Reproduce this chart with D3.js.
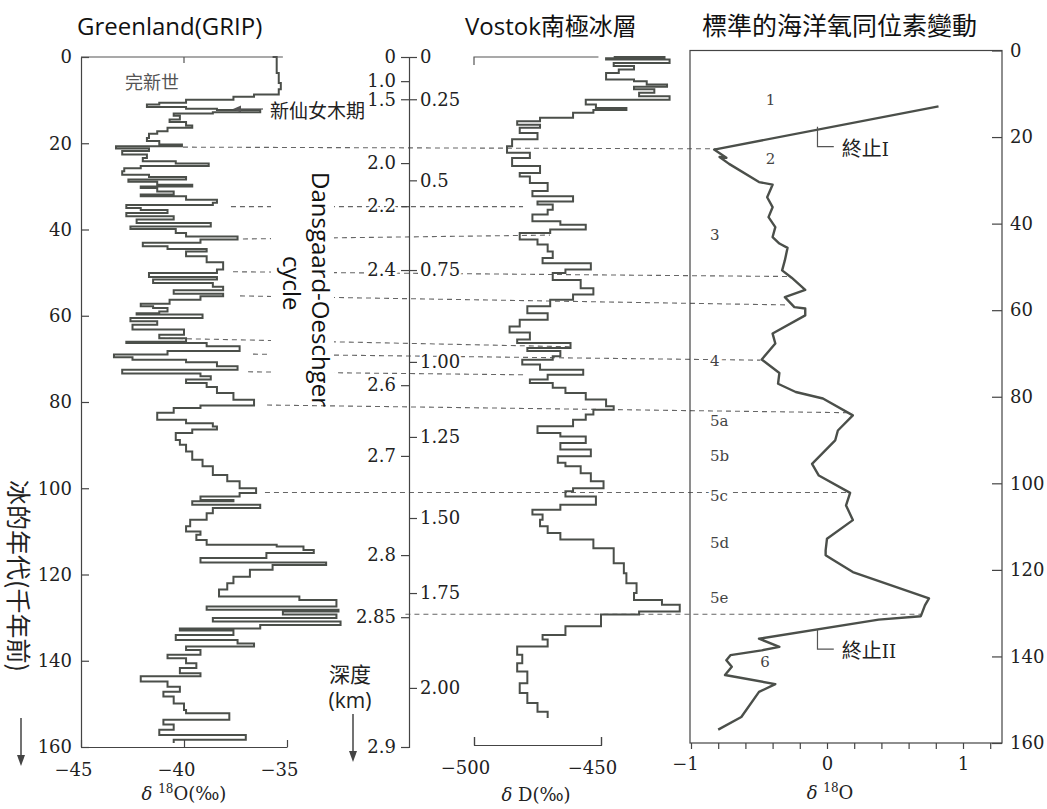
<!DOCTYPE html>
<meta charset="utf-8">
<script src="https://d3js.org/d3.v7.min.js"></script>
<style>
  body { margin: 0; background: #fff; }
  svg .serif, svg .tick text { font-family: "DejaVu Serif", serif !important; }
</style>
<div id="my_dataviz"></div>
<script>

// ---- data (ages in kyr before present) ----

// GRIP ice core, d18O (permil)
var gripAge = [0,3.7,6.0,7.5,8.7,9.2,9.9,10.6,11.0,11.6,12.0,12.3,12.8,13.1,13.6,14.5,15.1,15.9,16.4,17.2,17.8,18.8,19.5,20.3,20.7,21.2,21.8,22.6,23.4,24.2,24.7,25.3,25.8,26.5,27.3,27.8,28.4,28.9,29.6,30.0,30.4,31.2,31.9,32.3,33.1,33.8,34.3,35.0,35.5,36.2,36.9,37.7,38.5,39.3,39.9,40.8,41.6,42.3,43.1,43.9,44.5,45.1,46.2,47.6,49.3,50.1,51.0,51.6,52.4,53.3,54.1,54.9,55.5,56.3,57.2,57.8,58.2,59.0,59.4,59.7,60.5,61.3,62.1,63.2,64.4,65.2,66.0,66.3,67.1,68.2,69.0,69.6,70.2,70.8,71.7,72.5,73.4,74.0,74.8,75.6,76.5,77.9,79.5,80.8,81.4,82.5,84.1,84.9,85.7,86.4,87.2,88.8,89.9,91.5,93.4,94.9,96.9,98.4,100.0,101.1,101.9,102.7,103.0,103.8,104.6,105.8,107.3,108.8,110.0,110.8,112.0,113.1,113.5,114.3,115.0,116.2,117.2,117.8,118.9,120.5,122.0,123.5,125.1,125.9,126.7,127.4,128.2,128.6,129.3,130.1,130.9,131.7,132.5,133.0,134.0,135.2,136.0,136.7,137.5,138.6,139.4,140.6,141.7,142.9,143.6,144.8,146.0,147.2,148.3,149.9,151.4,152.2,153.7,154.8,156.0,157.2,158.3,159.1];
var gripD18O = [-35.7,-35.5,-35.4,-35.3,-35.4,-36.6,-37.6,-39.9,-41.2,-41.8,-39.9,-38.4,-36.3,-38.6,-40.5,-40.2,-40.7,-39.9,-39.6,-40.8,-41.3,-41.7,-41.8,-41.2,-40.1,-43.3,-41.7,-43.0,-41.8,-42.0,-40.4,-38.8,-42.1,-42.9,-43.0,-41.7,-39.9,-42.7,-41.3,-39.6,-42.1,-41.3,-40.5,-42.1,-39.9,-38.4,-38.6,-42.8,-42.1,-40.8,-42.8,-40.5,-42.3,-38.7,-42.6,-40.4,-39.9,-37.4,-39.2,-42.0,-40.8,-38.9,-39.9,-38.9,-38.1,-38.4,-41.7,-38.4,-41.5,-38.6,-38.1,-40.5,-38.1,-39.2,-40.7,-42.1,-41.5,-40.8,-41.2,-42.3,-39.1,-42.6,-41.3,-42.5,-40.0,-41.2,-39.9,-42.8,-38.9,-37.3,-40.8,-43.4,-42.5,-39.9,-38.4,-37.4,-43.0,-39.2,-38.7,-39.9,-38.9,-38.4,-37.6,-36.6,-39.2,-40.5,-41.3,-39.9,-38.6,-38.4,-39.6,-40.4,-40.2,-39.9,-39.6,-39.1,-38.6,-37.9,-37.3,-36.5,-37.3,-39.2,-37.6,-39.6,-36.3,-38.6,-38.9,-39.7,-39.9,-39.2,-39.4,-38.9,-35.5,-34.2,-33.7,-36.0,-39.2,-33.1,-35.7,-36.8,-37.6,-37.9,-38.3,-34.4,-32.6,-32.6,-38.9,-32.5,-35.2,-32.6,-38.6,-32.4,-36.3,-40.2,-37.6,-40.4,-37.4,-36.6,-39.9,-39.2,-40.8,-39.9,-39.4,-40.2,-39.2,-42.1,-40.8,-40.2,-41.0,-40.5,-40.0,-39.9,-37.8,-41.0,-40.5,-41.2,-37.0,-40.5];

// Vostok ice core, dD (permil)
var vostokAge = [0,0.3,0.6,1.4,2.1,2.9,3.7,5.2,5.6,6.4,6.9,7.5,8.3,9.1,9.9,11.0,11.8,12.3,12.9,14.1,14.9,15.7,16.4,17.6,19.1,20.7,22.2,23.4,25.3,26.9,27.7,29.2,31.1,32.3,33.5,34.2,35.4,36.5,38.1,38.9,40.0,40.8,42.3,43.5,45.1,46.6,47.8,49.3,50.1,51.7,53.6,55.1,56.3,57.8,59.4,60.9,62.5,63.9,65.5,66.3,67.5,68.2,69.4,70.2,71.3,72.5,73.7,74.8,75.6,76.7,77.9,79.4,81.0,81.8,82.9,84.1,85.6,87.2,88.0,89.5,91.0,92.6,94.1,94.9,96.5,98.4,100.0,100.7,101.9,103.8,105.0,106.1,107.3,108.8,110.4,111.9,113.9,115.8,117.4,119.7,122.0,124.3,125.9,127.0,128.6,129.3,132.0,134.0,135.1,136.7,138.6,140.6,142.5,145.2,147.5,149.8,151.8,153.3];
var vostokDD = [-445,-425,-448,-423,-445,-437,-443,-448,-437,-432,-424,-437,-429,-435,-423,-456,-452,-440,-453,-461,-474,-483,-474,-482,-475,-485,-487,-478,-485,-474,-482,-478,-471,-477,-461,-475,-469,-471,-477,-466,-456,-470,-482,-475,-471,-469,-473,-454,-464,-469,-458,-453,-461,-470,-479,-471,-482,-486,-478,-483,-462,-479,-466,-469,-481,-474,-457,-471,-478,-469,-464,-456,-448,-445,-453,-456,-461,-475,-466,-456,-466,-454,-467,-464,-458,-454,-449,-461,-464,-452,-466,-477,-473,-474,-471,-466,-453,-445,-445,-441,-440,-436,-437,-426,-419,-435,-450,-464,-473,-471,-483,-481,-483,-479,-482,-479,-475,-471];

// standard marine oxygen isotope record, d18O
var marineAge = [12.9,22.9,24.8,24.6,26.2,30.4,31.0,33.9,36.2,38.5,40.8,43.1,44.6,45.6,48.5,50.8,52.5,55.3,57.0,59.3,59.6,61.2,65.4,67.7,71.4,74.5,77.0,78.9,80.4,84.3,87.8,90.1,95.5,98.2,102.2,105.1,108.5,112.8,115.5,116.6,117.6,120.5,126.6,128.2,130.7,131.5,135.9,137.8,138.6,139.7,140.9,142.4,144.3,146.4,148.2,154.0,156.9];
var marineD18O = [0.82,-0.83,-0.74,-0.79,-0.72,-0.50,-0.40,-0.44,-0.40,-0.43,-0.38,-0.40,-0.35,-0.29,-0.31,-0.33,-0.26,-0.16,-0.31,-0.24,-0.16,-0.16,-0.40,-0.38,-0.48,-0.35,-0.36,-0.23,-0.03,0.19,0.08,0.06,-0.11,-0.06,0.17,0.14,0.19,0.00,-0.01,-0.01,0.04,0.19,0.75,0.72,0.69,0.38,-0.50,-0.35,-0.48,-0.71,-0.74,-0.70,-0.75,-0.38,-0.50,-0.63,-0.80];

// axes
var ageTicks = [0,20,40,60,80,100,120,140,160];
var gripXTicks = [-45,-40,-35];
var vostokXTicks = [-500,-450];
var marineXTicks = [-1,-0.8,-0.6,-0.4,-0.2,0,0.2,0.4,0.6,0.8,1,1.2];
var marineXLabels = [-1,0,1];

// depth scales (km) tied to age
var gripDepths = [0,1.0,1.5,2.0,2.2,2.4,2.6,2.7,2.8,2.85,2.9];
var gripDepthLabels = ["0","1.0","1.5","2.0","2.2","2.4","2.6","2.7","2.8","2.85","2.9"];
var gripDepthAges = [0,5.6,9.8,24.6,34.6,49.4,76.1,92.5,115.5,129.9,160];
var vostokDepths = [0,0.25,0.5,0.75,1.0,1.25,1.5,1.75,2.0];
var vostokDepthLabels = ["0","0.25","0.5","0.75","1.00","1.25","1.50","1.75","2.00"];
var vostokDepthAges = [0,9.8,28.6,49.4,70.7,88.1,106.9,124.3,146.3];

// marine isotope stages
var stageNames = ["1","2","3","4","5a","5b","5c","5d","5e","6"];
var stageAges = [12.6,26.3,43.8,72.8,86.7,94.8,104.0,114.9,127.6,142.4];
var stageVals = [-0.45,-0.45,-0.86,-0.86,-0.86,-0.86,-0.86,-0.86,-0.86,-0.49];

// terminations
var termNames = ["I","II"];
var termAge0 = [17.6,133.8];
var termAge1 = [22.2,138.3];

// dashed correlation lines: start/end age, start/end panel + value
var connAge0 = [20.9,34.7,42.2,49.8,55.4,65.2,68.9,73.0,80.7,101.0,129.2];
var connAge1 = [21.3,34.7,41.3,50.9,57.5,67.2,70.3,73.7,82.5,101.0,129.2];
var connFromPanel = ["g","g","g","g","g","g","g","g","g","g","v"];
var connFromVal = [-40.05,-37.72,-37.14,-37.62,-37.28,-41.17,-36.65,-36.89,-35.97,-36.07,-527];
var connToPanel = ["m","v","v","m","m","v","m","v","m","m","m"];
var connToVal = [-0.78,-480.7,-470.1,-0.28,-0.28,-461.4,-0.49,-479.1,0.185,0.17,0.69];

// ---- layout ----
var width = 1047, height = 809;
var sans = "Open Sans, Noto Sans CJK TC, sans-serif";
var cjk = "Noto Sans CJK TC, sans-serif";

var svg = d3.select("#my_dataviz")
  .append("svg")
    .attr("width", width)
    .attr("height", height);

var yL = d3.scaleLinear().domain([0, 160]).range([57, 747]);
var yR = d3.scaleLinear().domain([0, 160]).range([50.5, 743]);
var xG = d3.scaleLinear().domain([-45, -35]).range([81, 287]);
var xV = d3.scaleLinear().domain([-500, -450]).range([474, 601]);
var xM = d3.scaleLinear().domain([-1, 1]).range([691, 963]);
var px = {g: xG, v: xV, m: xM};

var depthAxisX = 409;
var gripDepth = d3.scaleLinear().domain(gripDepths).range(gripDepthAges.map(yL));
var vostokDepth = d3.scaleLinear().domain(vostokDepths).range(vostokDepthAges.map(yL));

var lineColor = "#4b4f4a";

// style an axis group like the scanned figure
function numAxis(g) {
  g.attr("font-family", null).attr("font-size", 18);
  g.selectAll("text").attr("class", "serif").attr("fill", "#222");
  g.selectAll("path, line").attr("stroke", "#444").attr("stroke-width", 1.2);
  return g;
}

// dashed correlation lines
svg.append("g")
  .selectAll("line")
  .data(connAge0)
  .enter().append("line")
    .attr("x1", function(d, i) { return px[connFromPanel[i]](connFromVal[i]); })
    .attr("x2", function(d, i) { return px[connToPanel[i]](connToVal[i]); })
    .attr("y1", function(d) { return yL(d); })
    .attr("y2", function(d, i) { return yL(connAge1[i]); })
    .attr("stroke", "#666")
    .attr("stroke-width", 1.1)
    .attr("stroke-dasharray", "5,4");

// white patch under the Dansgaard-Oeschger label
svg.append("rect")
  .attr("x", 271).attr("y", 163).attr("width", 63).attr("height", 232)
  .attr("fill", "#fff");

// ---- GRIP panel ----
svg.append("path")
  .datum(gripAge)
  .attr("fill", "none")
  .attr("stroke", lineColor)
  .attr("stroke-width", 2)
  .attr("d", d3.line()
    .curve(d3.curveStepAfter)
    .x(function(d, i) { return xG(gripD18O[i]); })
    .y(function(d) { return yL(d); }));

numAxis(svg.append("g")
  .attr("transform", "translate(" + xG(-45) + ",0)")
  .call(d3.axisLeft(yL).tickValues(ageTicks).tickSizeInner(-8).tickSizeOuter(0).tickPadding(9)));

numAxis(svg.append("g")
  .attr("transform", "translate(0," + yL(160) + ")")
  .call(d3.axisBottom(xG).tickValues(gripXTicks).tickSizeInner(-7).tickSizeOuter(0).tickPadding(16)
    .tickFormat(function(d) { return "\u2212" + Math.abs(d); })))
  .selectAll("text").attr("dx", -8);

// top frame line of GRIP panel
svg.append("path")
  .attr("d", "M" + xG(-45) + "," + yL(0) + "H" + xG(-35.2) + "M" + xG(-40) + "," + yL(0) + "v6")
  .attr("fill", "none").attr("stroke", "#555").attr("stroke-width", 1.2);

svg.append("text")
  .attr("class", "serif")
  .attr("x", xG(-40)).attr("y", 800)
  .attr("text-anchor", "middle")
  .attr("font-size", 18).attr("fill", "#222")
  .html("<tspan font-style='italic'>δ</tspan> <tspan font-size='12px' dy='-7'>18</tspan><tspan dy='7'>O(‰)</tspan>");

// ---- depth axis ----
numAxis(svg.append("g")
  .attr("transform", "translate(" + depthAxisX + ",0)")
  .call(d3.axisLeft(gripDepth).tickValues(gripDepths).tickSize(8).tickPadding(5)
    .tickFormat(function(d, i) { return gripDepthLabels[i]; })));
var gDepR = numAxis(svg.append("g")
  .attr("transform", "translate(" + depthAxisX + ",0)")
  .call(d3.axisRight(vostokDepth).tickValues(vostokDepths).tickSize(8).tickPadding(3)
    .tickFormat(function(d, i) { return vostokDepthLabels[i]; })));
gDepR.select(".domain").remove();

// ---- Vostok panel ----
svg.append("path")
  .datum(vostokAge)
  .attr("fill", "none")
  .attr("stroke", lineColor)
  .attr("stroke-width", 2)
  .attr("d", d3.line()
    .curve(d3.curveStepAfter)
    .x(function(d, i) { return xV(vostokDD[i]); })
    .y(function(d) { return yL(d); }));

numAxis(svg.append("g")
  .attr("transform", "translate(0,745)")
  .call(d3.axisBottom(xV).tickValues(vostokXTicks).tickSizeInner(-8).tickSizeOuter(-8).tickPadding(16)
    .tickFormat(function(d) { return "\u2212" + Math.abs(d); })))
  .selectAll("text").attr("dx", -9);

svg.append("path")
  .attr("d", "M" + xV(-500) + "," + (yL(0) + 8) + "V" + yL(0) + "H" + xV(-451))
  .attr("fill", "none").attr("stroke", "#555").attr("stroke-width", 1.2);

svg.append("text")
  .attr("class", "serif")
  .attr("x", 536).attr("y", 801)
  .attr("text-anchor", "middle")
  .attr("font-size", 18).attr("fill", "#222")
  .html("<tspan font-style='italic'>δ</tspan> D(‰)");

// ---- marine panel ----
svg.append("rect")
  .attr("x", 690).attr("y", yR(0)).attr("width", 312).attr("height", yR(160) - yR(0))
  .attr("fill", "none").attr("stroke", "#444").attr("stroke-width", 1.2);

svg.append("path")
  .datum(marineAge)
  .attr("fill", "none")
  .attr("stroke", lineColor)
  .attr("stroke-width", 2.4)
  .attr("stroke-linejoin", "round")
  .attr("d", d3.line()
    .x(function(d, i) { return xM(marineD18O[i]); })
    .y(function(d) { return yR(d); }));

var gMx = numAxis(svg.append("g")
  .attr("transform", "translate(0," + yR(160) + ")")
  .call(d3.axisBottom(xM).tickValues(marineXTicks).tickSize(6).tickPadding(8)
    .tickFormat(function(d) {
      var r = Math.round(d * 10) / 10;
      return marineXLabels.indexOf(r) >= 0 ? (r < 0 ? "\u2212" + Math.abs(r) : r) : "";
    })));
gMx.select(".domain").remove();
gMx.selectAll("text").attr("dx", function(d) { return d < 0 ? -6 : 0; });

var gMy = numAxis(svg.append("g")
  .attr("transform", "translate(1002,0)")
  .call(d3.axisRight(yR).tickValues(ageTicks).tickSizeInner(-10).tickSizeOuter(0).tickPadding(8)));
gMy.select(".domain").remove();

svg.append("text")
  .attr("class", "serif")
  .attr("x", 830).attr("y", 799)
  .attr("text-anchor", "middle")
  .attr("font-size", 18).attr("fill", "#222")
  .html("<tspan font-style='italic'>δ</tspan> <tspan font-size='12px' dy='-7'>18</tspan><tspan dy='7'>O</tspan>");

// stage labels
svg.append("g")
  .selectAll("text")
  .data(stageNames)
  .enter().append("text")
    .attr("class", "serif")
    .attr("x", function(d, i) { return xM(stageVals[i]); })
    .attr("y", function(d, i) { return yR(stageAges[i]); })
    .text(function(d) { return d; })
    .attr("font-size", 15).attr("fill", "#444")
    .attr("paint-order", "stroke").attr("stroke", "#fff").attr("stroke-width", 6);

// terminations
termNames.forEach(function(t, i) {
  svg.append("path")
    .attr("d", "M" + xM(-0.07) + "," + yR(termAge0[i]) + "V" + yR(termAge1[i]) + "H" + xM(0.05))
    .attr("fill", "none").attr("stroke", "#555").attr("stroke-width", 1.2);
  var tt = svg.append("text")
    .attr("x", xM(0.05) + 8).attr("y", yR(termAge1[i]) + 9)
    .attr("font-family", cjk).attr("font-size", 20).attr("fill", "#222");
  tt.append("tspan").text("終止");
  tt.append("tspan").attr("class", "serif").attr("font-size", 18).text(t);
});

// white halo behind all tick labels so dashed lines stop at them
svg.selectAll(".tick text")
  .attr("paint-order", "stroke").attr("stroke", "#fff").attr("stroke-width", 5).attr("stroke-linejoin", "round");

// ---- titles and notes ----
svg.append("text").attr("x", 77).attr("y", 35).text("Greenland(GRIP)")
  .attr("font-family", sans).attr("font-size", 24).attr("fill", "#111");
svg.append("text").attr("x", 465).attr("y", 35).text("Vostok南極冰層")
  .attr("font-family", sans).attr("font-size", 24).attr("fill", "#111");
svg.append("text").attr("x", 702).attr("y", 35).text("標準的海洋氧同位素變動")
  .attr("font-family", sans).attr("font-size", 25).attr("fill", "#111");

svg.append("text").attr("x", 125).attr("y", 89).text("完新世")
  .attr("font-family", cjk).attr("font-size", 18).attr("fill", "#555");
svg.append("text").attr("x", 270).attr("y", 118).text("新仙女木期")
  .attr("font-family", cjk).attr("font-size", 19).attr("fill", "#222");
svg.append("path").attr("d", "M263,109H240").attr("stroke", "#555").attr("stroke-width", 1.2);
svg.append("path").attr("d", "M233,109l8,-3.5v7z").attr("fill", "#555");

svg.append("text")
  .attr("transform", "translate(312,172) rotate(90)")
  .text("Dansgaard-Oeschger")
  .attr("font-family", sans).attr("font-size", 24).attr("fill", "#111");
svg.append("text")
  .attr("transform", "translate(283,256) rotate(90)")
  .text("cycle")
  .attr("font-family", sans).attr("font-size", 24).attr("fill", "#111");

svg.append("text")
  .attr("transform", "translate(9,480) rotate(90)")
  .text("冰的年代(千年前)")
  .attr("font-family", cjk).attr("font-size", 25).attr("fill", "#222");
svg.append("path").attr("d", "M21,718V757").attr("stroke", "#444").attr("stroke-width", 1.5);
svg.append("path").attr("d", "M21,766l-4,-11h8z").attr("fill", "#444");

svg.append("text").attr("x", 350).attr("y", 682).attr("text-anchor", "middle").text("深度")
  .attr("font-family", cjk).attr("font-size", 21).attr("fill", "#222");
svg.append("text").attr("x", 350).attr("y", 708).attr("text-anchor", "middle").text("(km)")
  .attr("font-family", sans).attr("font-size", 21).attr("fill", "#222");
svg.append("path").attr("d", "M353,714V752").attr("stroke", "#444").attr("stroke-width", 1.5);
svg.append("path").attr("d", "M353,762l-4,-11h8z").attr("fill", "#444");

</script>
